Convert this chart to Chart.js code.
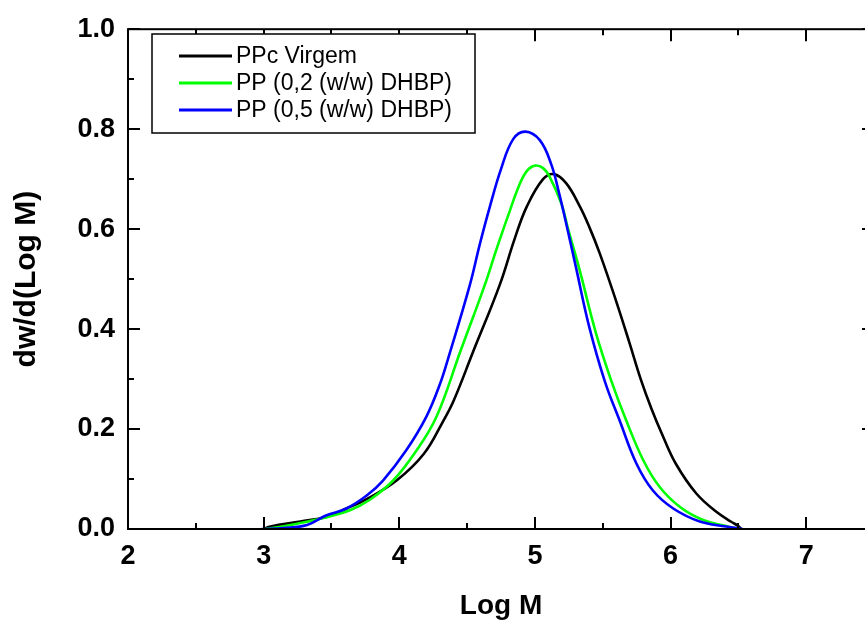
<!DOCTYPE html>
<html>
<head>
<meta charset="utf-8">
<script src="https://cdn.jsdelivr.net/npm/chart.js@4/dist/chart.umd.min.js"></script>
<style>
  html, body { margin: 0; padding: 0; overflow: hidden; background: #fff; }
  #c { display: block; }
</style>
</head>
<body>
<canvas id="c" width="880" height="623" style="width:880px;height:623px"></canvas>
<script>
// ---- data ----
const seriesLabels = ['PPc Virgem', 'PP (0,2 (w/w) DHBP)', 'PP (0,5 (w/w) DHBP)'];
const seriesColors = ['#000000', '#00ff00', '#0000ff'];

const xVirgem = [3.00, 3.05, 3.27, 3.46, 3.61, 3.76, 3.98, 4.18, 4.32, 4.40, 4.545, 4.74, 4.85, 4.94, 5.06, 5.14, 5.23, 5.33, 5.40, 5.48, 5.60, 5.70, 5.78, 5.86, 5.94, 6.04, 6.19, 6.34, 6.45, 6.50, 6.52];
const yVirgem = [0.000, 0.005, 0.015, 0.024, 0.041, 0.060, 0.097, 0.150, 0.214, 0.256, 0.355, 0.488, 0.580, 0.645, 0.700, 0.710, 0.692, 0.646, 0.605, 0.550, 0.455, 0.370, 0.300, 0.240, 0.188, 0.130, 0.071, 0.034, 0.014, 0.006, 0.000];

const xDhbp02 = [3.00, 3.14, 3.44, 3.64, 3.78, 3.955, 4.127, 4.275, 4.45, 4.63, 4.717, 4.80, 4.88, 4.94, 5.00, 5.06, 5.11, 5.196, 5.245, 5.33, 5.45, 5.564, 5.675, 5.80, 5.92, 6.07, 6.24, 6.41, 6.50];
const yDhbp02 = [0.000, 0.005, 0.022, 0.038, 0.058, 0.097, 0.157, 0.225, 0.355, 0.488, 0.560, 0.625, 0.685, 0.716, 0.727, 0.722, 0.704, 0.650, 0.600, 0.518, 0.392, 0.296, 0.216, 0.137, 0.084, 0.044, 0.018, 0.006, 0.000];

const xDhbp05 = [2.985, 3.15, 3.32, 3.46, 3.61, 3.76, 3.88, 4.05, 4.20, 4.30, 4.37, 4.52, 4.594, 4.668, 4.75, 4.84, 4.93, 5.036, 5.12, 5.18, 5.24, 5.30, 5.40, 5.515, 5.626, 5.75, 5.87, 6.02, 6.215, 6.41, 6.53];
const yDhbp05 = [0.000, 0.002, 0.008, 0.027, 0.041, 0.067, 0.097, 0.157, 0.225, 0.290, 0.350, 0.488, 0.570, 0.645, 0.720, 0.780, 0.795, 0.778, 0.730, 0.670, 0.600, 0.527, 0.405, 0.296, 0.216, 0.130, 0.077, 0.041, 0.015, 0.005, 0.000];

const xMajorTicks = [2, 3, 4, 5, 6, 7];
const xMinorTicks = [2.5, 3.5, 4.5, 5.5, 6.5, 7.5];
const yMajorTicks = [0.0, 0.2, 0.4, 0.6, 0.8, 1.0];
const yMinorTicks = [0.1, 0.3, 0.5, 0.7, 0.9];

const xTitle = 'Log M';
const yTitle = 'dw/d(Log M)';

function pts(xs, ys) { return xs.map((x, i) => ({ x: x, y: ys[i] })); }

const FONT = "Arial, 'Liberation Sans', Helvetica, sans-serif";

// inward ticks + frame on all four sides
const framePlugin = {
  id: 'frame',
  afterDatasetsDraw(chart) {
    const { ctx, chartArea: a, scales } = chart;
    const xs = scales.x, ys = scales.y;
    ctx.save();
    ctx.strokeStyle = '#000';
    ctx.lineWidth = 2;
    ctx.strokeRect(a.left, a.top, a.right - a.left, a.bottom - a.top);
    ctx.beginPath();
    const maj = 12, min = 6;
    xMajorTicks.concat(xMinorTicks).forEach(v => {
      const L = xMajorTicks.includes(v) ? maj : min;
      const px = Math.round(xs.getPixelForValue(v));
      ctx.moveTo(px, a.bottom); ctx.lineTo(px, a.bottom - L);
      ctx.moveTo(px, a.top); ctx.lineTo(px, a.top + L);
    });
    yMajorTicks.concat(yMinorTicks).forEach(v => {
      const L = yMajorTicks.includes(v) ? maj : min;
      const py = Math.round(ys.getPixelForValue(v));
      ctx.moveTo(a.left, py); ctx.lineTo(a.left + L, py);
      ctx.moveTo(a.right, py); ctx.lineTo(a.right - L, py);
    });
    ctx.stroke();
    ctx.restore();
  }
};

// legend box inside the plot
const legendPlugin = {
  id: 'boxLegend',
  afterDraw(chart) {
    const { ctx } = chart;
    const bx = 152, by = 34, bw = 323, bh = 99;
    ctx.save();
    ctx.fillStyle = '#fff';
    ctx.fillRect(bx, by, bw, bh);
    ctx.strokeStyle = '#000';
    ctx.lineWidth = 1.5;
    ctx.strokeRect(bx, by, bw, bh);
    ctx.font = '23px ' + FONT;
    ctx.textBaseline = 'middle';
    ctx.textAlign = 'left';
    chart.data.datasets.forEach((ds, i) => {
      const y = by + 22 + i * 27;
      ctx.strokeStyle = ds.borderColor;
      ctx.lineWidth = 3;
      ctx.beginPath();
      ctx.moveTo(179, y); ctx.lineTo(232, y);
      ctx.stroke();
      ctx.fillStyle = '#000';
      ctx.fillText(ds.label, 236, y + 1);
    });
    ctx.restore();
  }
};

new Chart(document.getElementById('c'), {
  type: 'line',
  data: {
    datasets: [
      { label: seriesLabels[0], data: pts(xVirgem, yVirgem), borderColor: seriesColors[0], order: 2 },
      { label: seriesLabels[1], data: pts(xDhbp02, yDhbp02), borderColor: seriesColors[1], order: 1 },
      { label: seriesLabels[2], data: pts(xDhbp05, yDhbp05), borderColor: seriesColors[2], order: 0 }
    ].map(d => Object.assign(d, { borderWidth: 2.6, pointRadius: 0, fill: false, tension: 0.4 }))
  },
  options: {
    responsive: false,
    animation: false,
    layout: { padding: { left: 0, top: 25, right: 6, bottom: 0 } },
    plugins: { legend: { display: false }, tooltip: { enabled: false } },
    scales: {
      x: {
        type: 'linear', min: 2, max: 7.5,
        afterFit(s) { s.height = 94; },
        afterBuildTicks(s) { s.ticks = xMajorTicks.map(v => ({ value: v })); },
        grid: { display: false, drawTicks: false },
        border: { display: false },
        ticks: { color: '#000', padding: 11, font: { family: FONT, size: 27, weight: 'bold' }, callback: v => String(v) },
        title: { display: true, text: xTitle, color: '#000', padding: { top: 3, bottom: 0 }, font: { family: FONT, size: 28, weight: 'bold' } }
      },
      y: {
        type: 'linear', min: 0, max: 1.0,
        afterFit(s) { s.width = 128; },
        afterBuildTicks(s) { s.ticks = yMajorTicks.map(v => ({ value: v })); },
        grid: { display: false, drawTicks: false },
        border: { display: false },
        ticks: { color: '#000', padding: 13, font: { family: FONT, size: 27, weight: 'bold' }, callback: v => v.toFixed(1) },
        title: { display: true, text: yTitle, color: '#000', padding: { top: 9, bottom: 0 }, font: { family: FONT, size: 30, weight: 'bold' } }
      }
    }
  },
  plugins: [framePlugin, legendPlugin]
});
</script>
</body>
</html>
